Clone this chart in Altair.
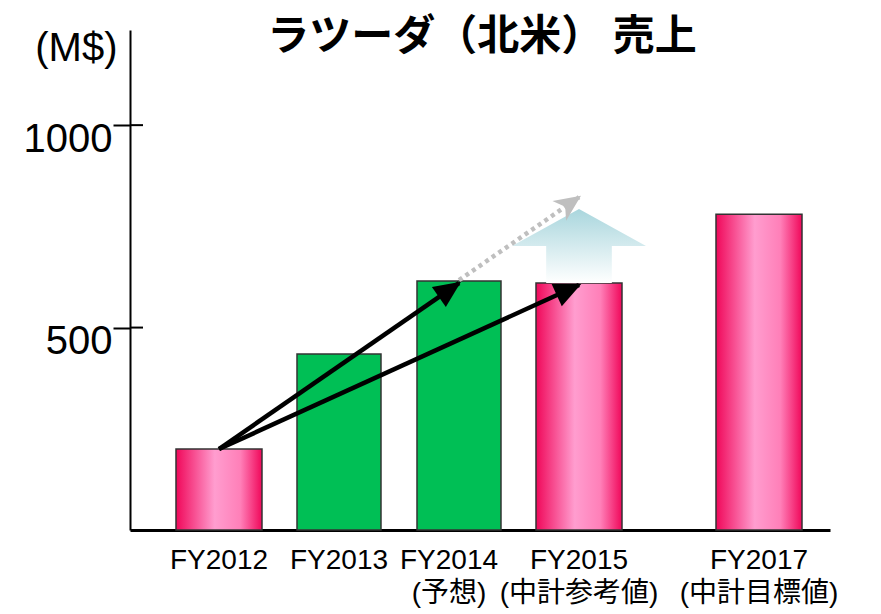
import math
import altair as alt
import pandas as pd

# ---- data ----
years = ["FY2012", "FY2013", "FY2014", "FY2015", "FY2017"]
subs = ["", "", "(予想)", "(中計参考値)", "(中計目標値)"]
sales = [200, 435, 615, 610, 780]
bar_group = ["pink", "green", "green", "pink", "pink"]

y_ticks = [500, 1000]

arrow_name = ["a", "a", "b", "b", "c", "c"]
arrow_style = ["black", "black", "black", "black", "gray", "gray"]
arrow_cat = ["FY2012", "FY2014", "FY2012", "FY2015", "FY2014", "FY2015"]
arrow_val = [200, 610, 200, 605, 617, 822]

up_cat = ["FY2015"]
up_val = [610]

title_text = "ラツーダ（北米） 売上"
unit_text = "(M$)"

# ---- layout ----
W, H = 700, 500
YMAX = 1235
slot_domain = ["FY2012", " 1", "FY2013", " 2", "FY2014", " 3", "FY2015", " 4", " 5", "FY2017"]
PO = 0.8333
ALIGN = 0.59
n = len(slot_domain)
step = W / (n + 2 * PO)
start = (W - step * n) * ALIGN


def px(c):
    return start + slot_domain.index(c) * step + step / 2


def py(v):
    return H * (1 - v / YMAX)


bars_df = pd.DataFrame({"cat": years, "val": sales, "grp": bar_group})
lines_df = pd.DataFrame({"name": arrow_name, "style": arrow_style, "cat": arrow_cat, "val": arrow_val})

heads = []
for nm in dict.fromkeys(arrow_name):
    pts = lines_df[lines_df["name"] == nm].reset_index(drop=True)
    s, e = pts.iloc[0], pts.iloc[1]
    dx = px(e["cat"]) - px(s["cat"])
    dy = py(e["val"]) - py(s["val"])
    ang = math.degrees(math.atan2(dx, -dy)) % 360
    heads.append({"name": nm, "style": e["style"], "cat": e["cat"], "val": e["val"], "ang": ang})
heads_df = pd.DataFrame(heads)

up_df = pd.DataFrame({"cat": up_cat, "val": up_val})
ticks_df = pd.DataFrame({"val": y_ticks})
title_df = pd.DataFrame({"t": [title_text]})

# label expression (two-line labels)
parts = []
for yv, sv in zip(years, subs):
    if sv:
        parts.append(f"datum.value == '{yv}' ? ['{yv}', '{sv}'] : ")
    else:
        parts.append(f"datum.value == '{yv}' ? '{yv}' : ")
label_expr = "".join(parts) + "''"

LATIN = "Liberation Sans"
LABEL_FONT = "Liberation Sans, Noto Sans CJK JP"

x_enc = alt.X(
    "cat:N",
    sort=slot_domain,
    scale=alt.Scale(domain=slot_domain, paddingInner=0, paddingOuter=PO, align=ALIGN),
    axis=alt.Axis(
        labelExpr=label_expr,
        labelFont=LABEL_FONT,
        labelFontSize=28,
        labelColor="black",
        labelPadding=16,
        labelLineHeight=33,
        labelAngle=0,
        labelOverlap=False,
        labelLimit=0,
        labelOffset={"condition": {"test": "datum.value == 'FY2014'", "value": -10}, "value": 0},
        ticks=False,
        domainColor="black",
        domainWidth=3,
        grid=False,
    ),
    title=None,
)

y_enc = alt.Y(
    "val:Q",
    scale=alt.Scale(domain=[0, YMAX], nice=False, zero=True),
    axis=alt.Axis(
        values=y_ticks,
        format="d",
        labelFont=LATIN,
        labelFontSize=40,
        labelColor="black",
        labelPadding=1,
        labelOffset=14,
        labelBaseline="middle",
        labelOverlap=False,
        labelFlush=False,
        tickSize=17,
        tickWidth=2,
        tickColor="black",
        domainColor="black",
        domainWidth=2,
        grid=False,
        titleAngle=0,
        titleAlign="right",
        titleBaseline="alphabetic",
        titleX=-13,
        titleY=30,
        titleFont=LATIN,
        titleFontSize=40,
        titleFontWeight="normal",
        titleColor="black",
    ),
    title=unit_text,
)

pink = alt.Gradient(
    gradient="linear",
    stops=[
        alt.GradientStop(color="#f0085a", offset=0),
        alt.GradientStop(color="#ff9dcf", offset=0.45),
        alt.GradientStop(color="#ff7fb8", offset=0.75),
        alt.GradientStop(color="#f0085a", offset=1),
    ],
    x1=0, x2=1, y1=0, y2=0,
)

blue = alt.Gradient(
    gradient="linear",
    stops=[
        alt.GradientStop(color="#a9d6dd", offset=0),
        alt.GradientStop(color="#ffffff", offset=1),
    ],
    x1=0, x2=0, y1=0, y2=1,
)

pink_bars = (
    alt.Chart(bars_df)
    .mark_bar(width=86, fill=pink, stroke="#333333", strokeWidth=1.5)
    .encode(x=x_enc, y=y_enc)
    .transform_filter(alt.datum.grp == "pink")
)
green_bars = (
    alt.Chart(bars_df)
    .mark_bar(width=84, fill="#00bf55", stroke="#333333", strokeWidth=1.5)
    .encode(x=x_enc, y=y_enc)
    .transform_filter(alt.datum.grp == "green")
)

k = 67
BLOCK_PATH = "M-0.49,0 L-0.49,-0.552 L-1,-0.552 L0,-1.104 L1,-0.552 L0.49,-0.552 L0.49,0 Z"
up_arrow = (
    alt.Chart(up_df)
    .mark_point(shape=BLOCK_PATH, filled=True, fill=blue, size=(2 * k) ** 2, opacity=1, strokeWidth=0)
    .encode(x=x_enc, y=y_enc)
)

inner_ticks = (
    alt.Chart(ticks_df)
    .mark_rule(color="black", strokeWidth=2)
    .encode(y=y_enc, x=alt.value(0), x2=alt.value(13))
)

gray_line = (
    alt.Chart(lines_df)
    .mark_line(color="#bfbfbf", strokeWidth=4.5, strokeDash=[4, 4])
    .encode(x=x_enc, y=y_enc, detail="name:N")
    .transform_filter(alt.datum.style == "gray")
)
HEAD_NOTCH = "M0,-0.1 L0.5,1 L0,0.7 L-0.5,1 Z"
gray_head = (
    alt.Chart(heads_df)
    .mark_point(shape=HEAD_NOTCH, filled=True, color="#bfbfbf", size=2300, opacity=1, strokeWidth=0)
    .encode(x=x_enc, y=y_enc, angle=alt.Angle("ang:Q", scale=None))
    .transform_filter(alt.datum.style == "gray")
)

black_lines = (
    alt.Chart(lines_df)
    .mark_line(color="black", strokeWidth=4.5)
    .encode(x=x_enc, y=y_enc, detail="name:N")
    .transform_filter(alt.datum.style == "black")
)
HEAD = "M0,-0.1 L0.5,1 L-0.5,1 Z"
black_heads = (
    alt.Chart(heads_df)
    .mark_point(shape=HEAD, filled=True, color="black", size=2400, opacity=1, strokeWidth=0)
    .encode(x=x_enc, y=y_enc, angle=alt.Angle("ang:Q", scale=None))
    .transform_filter(alt.datum.style == "black")
)

title_mark = (
    alt.Chart(title_df)
    .mark_text(font="Noto Sans CJK JP", fontSize=42, fontWeight="bold", align="center",
               baseline="alphabetic", color="black")
    .encode(text="t:N", x=alt.value(352), y=alt.value(20))
)

chart = (
    alt.layer(pink_bars, green_bars, up_arrow, inner_ticks, gray_line, gray_head,
              black_lines, black_heads, title_mark)
    .properties(
        width=W,
        height=H,
        autosize=alt.AutoSizeParams(type="none"),
        padding={"left": 122, "top": 22, "right": 40, "bottom": 83},
        background="white",
    )
    .configure_view(stroke=None)
)

chart.save("out.html", embed_options={"renderer": "svg", "actions": False})
